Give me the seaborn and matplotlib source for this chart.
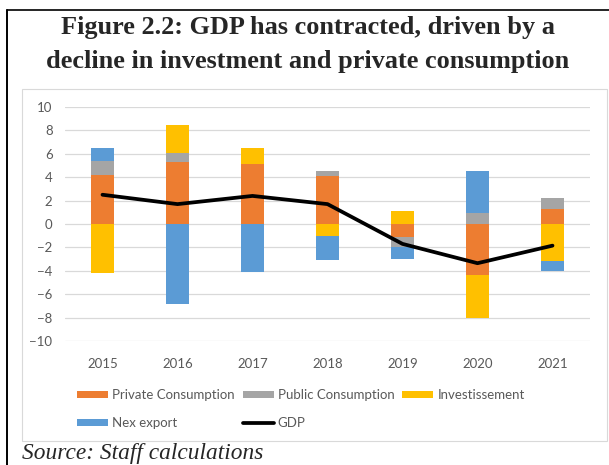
import numpy as np
import pandas as pd
import matplotlib
matplotlib.use("Agg")
import matplotlib.pyplot as plt
import seaborn as sns
from matplotlib.lines import Line2D
from matplotlib.patches import Rectangle

# data (contributions to GDP growth, pp)
years = ["2015", "2016", "2017", "2018", "2019", "2020", "2021"]
private_cons = [4.2, 5.3, 5.1, 4.1, -1.1, -4.4, 1.25]
public_cons = [1.2, 0.75, 0.0, 0.4, -0.9, 0.9, 1.0]
investment = [-4.2, 2.4, 1.4, -1.0, 1.15, -3.65, -3.2]
net_export = [1.1, -6.8, -4.1, -2.1, -1.0, 3.6, -0.85]
gdp = [2.5, 1.7, 2.4, 1.7, -1.7, -3.35, -1.85]

components = {
    "Private Consumption": (private_cons, "#ED7D31"),
    "Public Consumption": (public_cons, "#A5A5A5"),
    "Investissement": (investment, "#FFC000"),
    "Nex export": (net_export, "#5B9BD5"),
}

sns.set_style("white")
plt.rcParams["font.family"] = ["Lato", "DejaVu Sans"]

W, H = 609, 465
fig = plt.figure(figsize=(W / 100, H / 100), dpi=100)

def fx(px):
    return px / W

def fy(py):
    return 1 - py / H

# outer frame (black top and left rules) and inner chart box
fig.add_artist(Line2D([fx(7), 1], [fy(10), fy(10)], color="black", lw=1.2))
fig.add_artist(Line2D([fx(7), fx(7)], [fy(10), 0], color="black", lw=1.4))
fig.add_artist(Rectangle((fx(22), fy(441)), fx(607) - fx(22), fy(89) - fy(441),
                         fill=False, edgecolor="#D9D9D9", lw=0.8))

fig.text(fx(308), fy(34), "Figure 2.2: GDP has contracted, driven by a",
         ha="center", va="baseline", fontsize=18.9, fontweight="bold",
         family="Liberation Serif")
fig.text(fx(308), fy(68), "decline in investment and private consumption",
         ha="center", va="baseline", fontsize=18.9, fontweight="bold",
         family="Liberation Serif")
fig.text(fx(22), fy(459), "Source: Staff calculations", ha="left",
         va="baseline", fontsize=16.8, style="italic", family="Liberation Serif")

ax = fig.add_axes([fx(65), fy(341), fx(590) - fx(65), fy(107) - fy(341)])

x = np.arange(len(years))
pos_base = np.zeros(len(years))
neg_base = np.zeros(len(years))
handles = {}
for name, (vals, color) in components.items():
    vals = np.array(vals)
    bottoms = np.where(vals >= 0, pos_base, neg_base)
    bars = ax.bar(x, vals, bottom=bottoms, width=0.31, color=color,
                  edgecolor="none", label=name, zorder=2)
    handles[name] = bars
    pos_base = pos_base + np.clip(vals, 0, None)
    neg_base = neg_base + np.clip(vals, None, 0)

df_gdp = pd.DataFrame({"x": x, "GDP": gdp})
sns.lineplot(data=df_gdp, x="x", y="GDP", color="black", lw=2.7, ax=ax,
             zorder=3, label="GDP", legend=False)

ax.set_xlim(-0.5, len(years) - 0.5)
ax.set_ylim(-10, 10)
ax.set_yticks(range(-10, 11, 2))
ax.set_xticks(x)
ax.set_xticklabels(years)
ax.yaxis.grid(True, color="#D9D9D9", lw=0.9, zorder=0)
ax.xaxis.grid(False)
for s in ax.spines.values():
    s.set_visible(False)
ax.tick_params(axis="both", length=0, labelsize=9.5, labelcolor="#595959")
ax.tick_params(axis="y", pad=9)
ax.tick_params(axis="x", pad=12)
ax.set_xlabel("")
ax.set_ylabel("")

gdp_handle = Line2D([], [], color="black", lw=2.7)
order = ["Private Consumption", "Nex export", "Public Consumption", "GDP",
         "Investissement"]
all_handles = dict(handles)
all_handles["GDP"] = gdp_handle
fig.legend([all_handles[k] for k in order], order, ncol=3,
           loc="upper left", bbox_to_anchor=(fx(72), fy(384)),
           frameon=False, fontsize=9.5, labelcolor="#595959",
           handlelength=2.35, handleheight=0.5, handletextpad=0.3,
           columnspacing=0.6, labelspacing=1.2, borderaxespad=0)

fig.savefig("out.png", dpi=100)
